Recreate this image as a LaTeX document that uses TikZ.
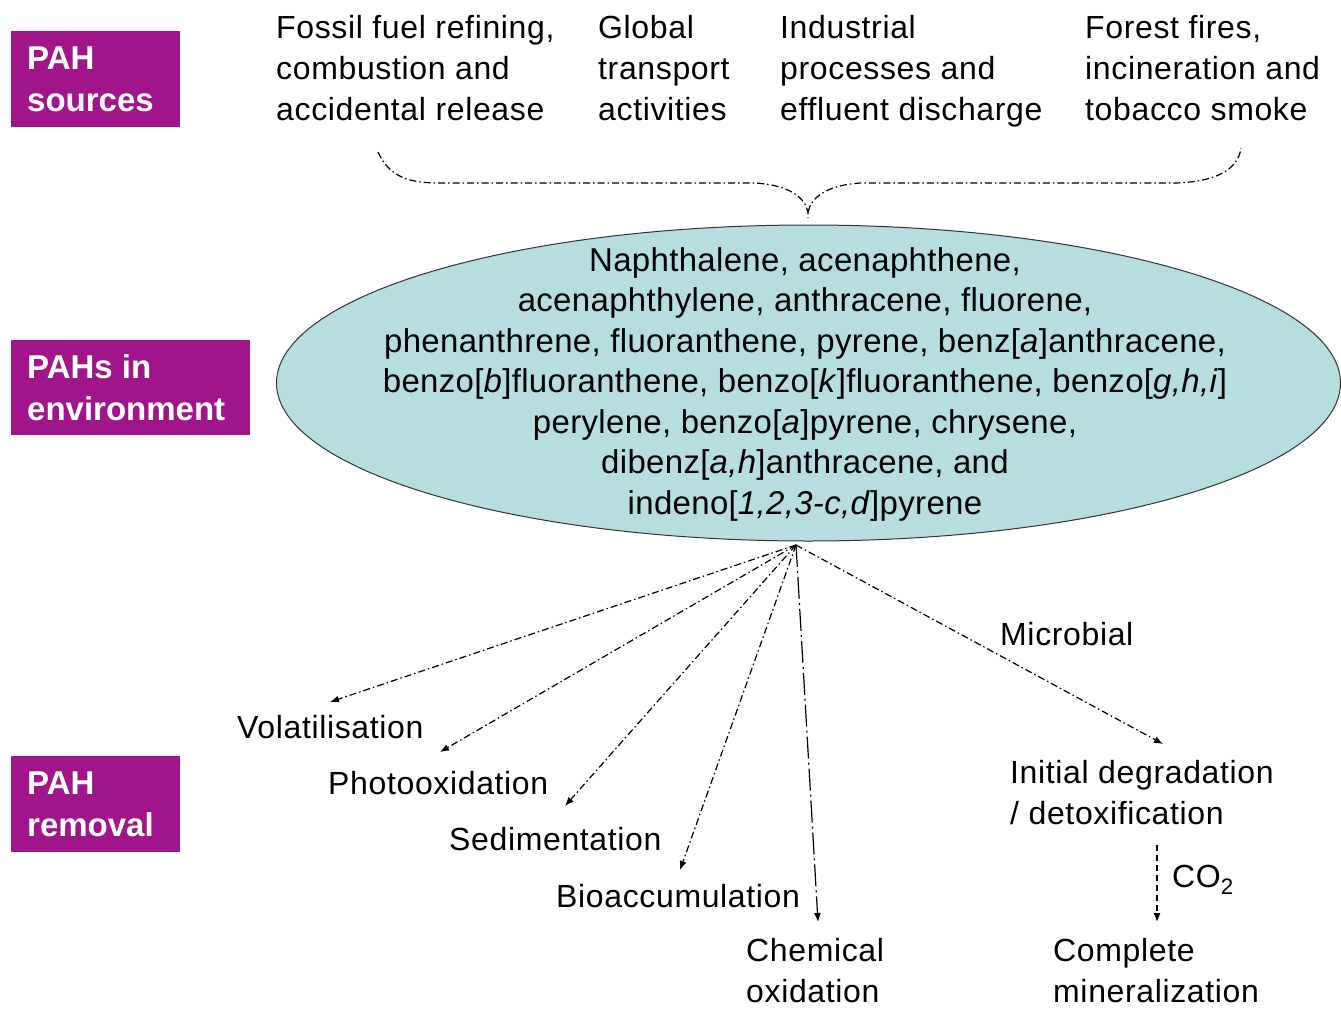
\documentclass[tikz,border=0pt]{standalone}
\usepackage{fontspec}
\setmainfont{Liberation Sans}
\newfontfamily\lblfont[LetterSpace=2]{Liberation Sans}
\newfontfamily\ellfont[LetterSpace=1]{Liberation Sans}
\usetikzlibrary{arrows.meta}
\definecolor{pahpurple}{RGB}{160,22,138}
\definecolor{ellfill}{RGB}{182,222,224}
\tikzset{
  lbl/.style={font=\lblfont\fontsize{32}{41}\selectfont, align=left, inner sep=0pt, anchor=west},
  catlbl/.style={lbl, text=white, font=\bfseries\fontsize{33}{42}\selectfont},
  dashdot/.style={line width=1.2pt, dash pattern=on 7pt off 3pt on 1.5pt off 3pt},
  longdashdot/.style={line width=1.2pt, dash pattern=on 22pt off 4pt on 2pt off 4pt},
  shortdash/.style={line width=1.2pt, dash pattern=on 6pt off 4pt},
  arr/.style={-{Latex[length=9pt,width=7pt]}},
}
\begin{document}
\begin{tikzpicture}[x=1pt,y=-1pt]
\useasboundingbox (0,0) rectangle (1341,1009);
% category boxes
\fill[pahpurple] (11,31) rectangle (180,127);
\node[catlbl] (srcbox) at (27,79) {PAH\\sources};
\fill[pahpurple] (11,340) rectangle (250,435);
\node[catlbl] (envbox) at (27,388) {PAHs in\\environment};
\fill[pahpurple] (11,756) rectangle (180,852);
\node[catlbl] (rembox) at (27,804) {PAH\\removal};
% sources
\node[lbl] (s1) at (276,68) {Fossil fuel refining,\\combustion and\\accidental release};
\node[lbl] (s2) at (598,68) {Global\\transport\\activities};
\node[lbl] (s3) at (780,71) {Industrial\\processes and\\effluent discharge};
\node[lbl] (s4) at (1085,68) {Forest fires,\\incineration and\\tobacco smoke};
% brace
\coordinate (bl) at (378,152);
\coordinate (br) at (1241,148);
\coordinate (btip) at (808,212);
\draw[dashdot] (bl) .. controls (390,178) and (410,183) .. (440,183) -- (755,183) .. controls (790,185) and (805,198) .. (btip) -- (808,218);
\draw[dashdot] (btip) .. controls (811,198) and (826,185) .. (861,183) -- (1175,183) .. controls (1215,182) and (1238,170) .. (br);
% ellipse
\draw[fill=ellfill, draw=black!80, line width=1pt] (808.5,383) ellipse [x radius=532, y radius=158];
\node[font=\ellfont\fontsize{33}{40.5}\selectfont, align=center, inner sep=0pt] (pahs) at (805,384) {Naphthalene, acenaphthene,\\
acenaphthylene, anthracene, fluorene,\\
phenanthrene, fluoranthene, pyrene, benz[\textit{a}]anthracene,\\
benzo[\textit{b}]fluoranthene, benzo[\textit{k}]fluoranthene, benzo[\textit{g,h,i}]\\
perylene, benzo[\textit{a}]pyrene, chrysene,\\
dibenz[\textit{a,h}]anthracene, and\\
indeno[\textit{1,2,3-c,d}]pyrene};
% removal
\coordinate (src) at (796,545);
\node[lbl] (vol) at (237,727) {Volatilisation};
\node[lbl] (pho) at (328,783) {Photooxidation};
\node[lbl] (sed) at (449,839) {Sedimentation};
\node[lbl] (bio) at (556,896) {Bioaccumulation};
\node[lbl] (chem) at (746,971) {Chemical\\oxidation};
\node[lbl] (mic) at (1000,634) {Microbial};
\node[lbl] (init) at (1010,793) {Initial degradation\\/ detoxification};
\node[lbl] (co2) at (1172,880) {CO\textsubscript{2}};
\node[lbl] (comp) at (1053,971) {Complete\\mineralization};
\coordinate (tvol) at (330,702);
\coordinate (tpho) at (440,752);
\coordinate (tsed) at (565,806);
\coordinate (tbio) at (680,870);
\coordinate (tchem) at (818,922);
\coordinate (tmic) at (1163,744);
\coordinate (co2a) at (1157,845);
\coordinate (co2b) at (1157,922);
\draw[dashdot, arr] (src) -- (tvol);
\draw[dashdot, arr] (src) -- (tpho);
\draw[dashdot, arr] (src) -- (tsed);
\draw[dashdot, arr] (src) -- (tbio);
\draw[longdashdot, arr] (src) -- (tchem);
\draw[dashdot, arr] (src) -- (tmic);
\draw[shortdash, arr] (co2a) -- (co2b);
\end{tikzpicture}
\end{document}
